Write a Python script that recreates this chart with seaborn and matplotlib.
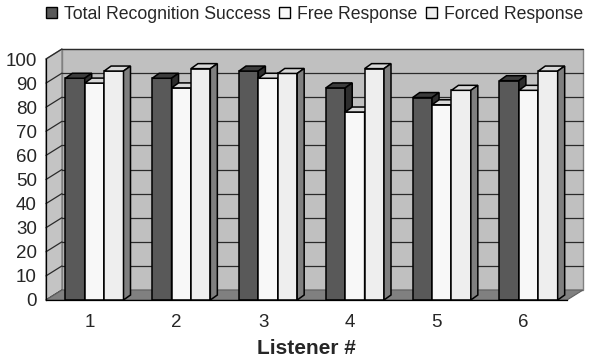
import numpy as np
import pandas as pd
import matplotlib
matplotlib.use("Agg")
import matplotlib.pyplot as plt
from matplotlib.patches import Polygon, Patch
import seaborn as sns

# Recognition scores (%) per listener
listeners = ["1", "2", "3", "4", "5", "6"]
total_success = [92, 92, 95, 88, 84, 91]
free_response = [90, 88, 92, 78, 81, 87]
forced_response = [95, 96, 94, 96, 87, 95]
series_names = ["Total Recognition Success", "Free Response", "Forced Response"]
y_ticks = [0, 10, 20, 30, 40, 50, 60, 70, 80, 90, 100]

df = pd.DataFrame({
    "Listener": listeners * 3,
    "Score": total_success + free_response + forced_response,
    "Series": [series_names[0]] * 6 + [series_names[1]] * 6 + [series_names[2]] * 6,
})

front_colors = ["#595959", "#f8f8f8", "#eeeeee"]
top_colors = ["#3c3c3c", "#d8d8d8", "#d8d8d8"]
side_colors = ["#2e2e2e", "#8a8a8a", "#7f7f7f"]

sns.set_theme(style="white")
plt.rcParams["font.family"] = ["Liberation Sans", "DejaVu Sans"]

W, H = 597, 363
fig = plt.figure(figsize=(W / 100, H / 100), dpi=100)
x_left, x_right, y_bot, y_top = 46, 567, 300, 59
ax = fig.add_axes([x_left / W, 1 - y_bot / H, (x_right - x_left) / W, (y_bot - y_top) / H])

sns.barplot(data=df, x="Listener", y="Score", hue="Series", palette=front_colors,
            saturation=1, width=0.67, edgecolor="black", linewidth=1.1, ax=ax,
            legend=False, errorbar=None, zorder=5)

# remember each column with its series index
columns = []
for k, cont in enumerate(ax.containers):
    for r in cont.patches:
        columns.append((r, k))
columns.sort(key=lambda t: t[0].get_x())

ax.set_xlim(-0.5, 5.5)
ax.set_ylim(0, 100)

# pixel -> data conversion for the depth offsets
px_x = (5.5 - -0.5) / (x_right - x_left)
px_y = 100 / (y_bot - y_top)
wall_dx, wall_dy = 16 * px_x, 10 * px_y
bar_dx, bar_dy = 7 * px_x, 5 * px_y
shift = 5 * px_x

x0, x1 = -0.5, 5.5
# back wall, floor and side wall
ax.add_patch(Polygon([(x0 + wall_dx, wall_dy), (x1 + wall_dx, wall_dy),
                      (x1 + wall_dx, 100 + wall_dy), (x0 + wall_dx, 100 + wall_dy)],
                     closed=True, facecolor="#c0c0c0", edgecolor="#808080",
                     linewidth=1, clip_on=False, zorder=1))
ax.add_patch(Polygon([(x0, 0), (x1, 0), (x1 + wall_dx, wall_dy), (x0 + wall_dx, wall_dy)],
                     closed=True, facecolor="#808080", edgecolor="#606060",
                     linewidth=0.8, clip_on=False, zorder=1.5))
ax.add_patch(Polygon([(x0, 0), (x0 + wall_dx, wall_dy), (x0 + wall_dx, 100 + wall_dy), (x0, 100)],
                     closed=True, facecolor="#c4c4c4", edgecolor="#808080",
                     linewidth=1, clip_on=False, zorder=1.2))

# gridlines on the back wall and their guides on the side wall
for v in y_ticks[1:]:
    ax.plot([x0 + wall_dx, x1 + wall_dx], [v + wall_dy, v + wall_dy],
            color="#2a2a2a", linewidth=0.9, clip_on=False, zorder=1.3)
for v in y_ticks:
    ax.plot([x0, x0 + wall_dx], [v, v + wall_dy], color="#2a2a2a",
            linewidth=0.9, clip_on=False, zorder=1.3)

# give every column a top and a side face
for i, (r, k) in enumerate(columns):
    r.set_x(r.get_x() + shift)
    bx, bw, bh = r.get_x(), r.get_width(), r.get_height()
    z = 5 + 0.01 * i
    r.set_zorder(z)
    top = Polygon([(bx, bh), (bx + bw, bh), (bx + bw + bar_dx, bh + bar_dy), (bx + bar_dx, bh + bar_dy)],
                  closed=True, facecolor=top_colors[k], edgecolor="black", linewidth=1.1,
                  clip_on=False, zorder=z + 0.004)
    side = Polygon([(bx + bw, 0), (bx + bw + bar_dx, bar_dy), (bx + bw + bar_dx, bh + bar_dy), (bx + bw, bh)],
                   closed=True, facecolor=side_colors[k], edgecolor="black", linewidth=1.1,
                   clip_on=False, zorder=z + 0.004)
    ax.add_patch(top)
    ax.add_patch(side)

# axes lines and ticks
for s in ["top", "right"]:
    ax.spines[s].set_visible(False)
for s in ["left", "bottom"]:
    ax.spines[s].set_color("black")
    ax.spines[s].set_linewidth(0.9)
    ax.spines[s].set_zorder(10)
ax.set_facecolor("none")

ax.set_yticks(y_ticks)
ax.set_yticklabels([str(v) for v in y_ticks], fontsize=13.5)
ax.set_xticks(range(6))
ax.set_xticklabels(listeners, fontsize=13.5)
ax.set_xticks(np.arange(-0.5, 6.0, 1.0), minor=True)
ax.tick_params(axis="x", which="major", length=0, pad=10)
ax.tick_params(axis="x", which="minor", length=5, width=0.9, color="black", direction="out")
ax.tick_params(axis="y", length=5, width=0.9, color="black", direction="out", pad=1.5)
ax.set_ylabel("")
ax.set_xlabel("Listener #", fontsize=15, fontweight="bold", labelpad=6)

handles = [Patch(facecolor=c, edgecolor="black", linewidth=1) for c in front_colors]
fig.legend(handles, series_names, loc="upper left", bbox_to_anchor=(46 / W, 1 - 6 / H),
           ncol=3, frameon=False, fontsize=12.7, handlelength=0.6, handleheight=0.6,
           handletextpad=0.4, columnspacing=0.5, borderpad=0, borderaxespad=0)

fig.savefig("out.png", dpi=100, facecolor="white")
